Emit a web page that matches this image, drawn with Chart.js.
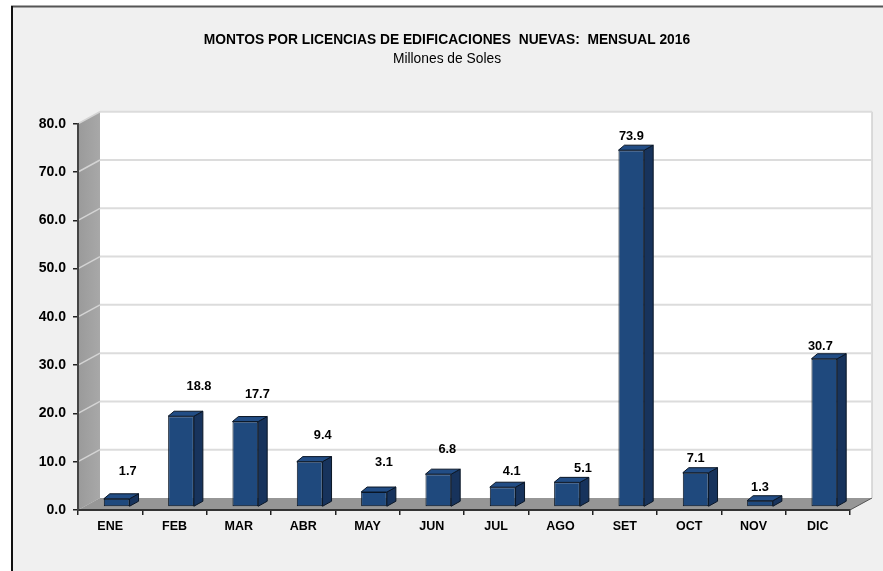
<!DOCTYPE html>
<html>
<head>
<meta charset="utf-8">
<script src="https://cdn.jsdelivr.net/npm/chart.js@4.4.1/dist/chart.umd.min.js"></script>
<style>
html,body{margin:0;padding:0;background:#fff;}
#wrap{width:883px;height:571px;position:relative;}
</style>
</head>
<body>
<div id="wrap"><canvas id="c"></canvas></div>
<script>
// ---- data ----
const categories = ['ENE','FEB','MAR','ABR','MAY','JUN','JUL','AGO','SET','OCT','NOV','DIC'];
const values = [1.7, 18.8, 17.7, 9.4, 3.1, 6.8, 4.1, 5.1, 73.9, 7.1, 1.3, 30.7];
const yMin = 0, yMax = 80, yStep = 10;
const titleText = 'MONTOS POR LICENCIAS DE EDIFICACIONES  NUEVAS:  MENSUAL 2016';
const subtitleText = 'Millones de Soles';

// ---- style ----
const FONT = 'Arial, "Liberation Sans", sans-serif';
const DEPTH_X = 22, DEPTH_Y = -12;      // wall depth
const SHIFT_X = 6.5, SHIFT_Y = -3;      // bar placement inside depth
const BAR_DL = 6, BAR_DR = 9, BAR_DY = -5; // bar own depth
const labelNudge = [[11,-14],[18,-17],[12,-14],[13,-13],[10,-17],[9,-12],[9,-3],[16,-1],[0,-1],[0,-1],[0,0],[-4,1]];

const scene3d = {
  id: 'scene3d',
  beforeDraw(chart) {
    const ctx = chart.ctx, a = chart.chartArea, y = chart.scales.y;
    ctx.save();
    ctx.fillStyle = '#ffffff';
    ctx.fillRect(0, 0, chart.width, chart.height);
    ctx.fillStyle = '#f0f0f0';
    ctx.fillRect(12, 7, chart.width - 12, chart.height - 7);
    ctx.strokeStyle = '#555555'; ctx.lineWidth = 2;
    ctx.beginPath(); ctx.moveTo(11, 6.5); ctx.lineTo(chart.width, 6.5); ctx.stroke();
    ctx.strokeStyle = '#111111'; ctx.lineWidth = 2;
    ctx.beginPath(); ctx.moveTo(12, 6); ctx.lineTo(12, chart.height); ctx.stroke();

    const top = y.getPixelForValue(yMax), bot = y.getPixelForValue(yMin);
    ctx.fillStyle = '#ffffff';
    ctx.fillRect(a.left + DEPTH_X, top + DEPTH_Y, a.right - a.left, bot - top);
    const g = ctx.createLinearGradient(a.left, 0, a.left + DEPTH_X, 0);
    g.addColorStop(0, '#9a9a9a'); g.addColorStop(1, '#a8a8a8');
    ctx.fillStyle = g;
    ctx.beginPath();
    ctx.moveTo(a.left, bot); ctx.lineTo(a.left, top);
    ctx.lineTo(a.left + DEPTH_X, top + DEPTH_Y); ctx.lineTo(a.left + DEPTH_X, bot + DEPTH_Y);
    ctx.closePath(); ctx.fill();
    ctx.fillStyle = '#969696';
    ctx.beginPath();
    ctx.moveTo(a.left, bot); ctx.lineTo(a.right, bot);
    ctx.lineTo(a.right + DEPTH_X, bot + DEPTH_Y); ctx.lineTo(a.left + DEPTH_X, bot + DEPTH_Y);
    ctx.closePath(); ctx.fill();
    ctx.strokeStyle = '#555'; ctx.lineWidth = 1;
    ctx.beginPath(); ctx.moveTo(a.right, bot); ctx.lineTo(a.right + DEPTH_X, bot + DEPTH_Y); ctx.stroke();
    ctx.strokeStyle = '#d0d0d0'; ctx.lineWidth = 1.5;
    ctx.beginPath(); ctx.moveTo(a.right + DEPTH_X, top + DEPTH_Y); ctx.lineTo(a.right + DEPTH_X, bot + DEPTH_Y); ctx.stroke();
    for (let v = yMin + yStep; v <= yMax; v += yStep) {
      const py = y.getPixelForValue(v);
      ctx.strokeStyle = '#dcdcdc'; ctx.lineWidth = 2;
      ctx.beginPath(); ctx.moveTo(a.left + DEPTH_X, py + DEPTH_Y); ctx.lineTo(a.right + DEPTH_X, py + DEPTH_Y); ctx.stroke();
      ctx.strokeStyle = '#d4d4d4'; ctx.lineWidth = 1.5;
      ctx.beginPath(); ctx.moveTo(a.left, py); ctx.lineTo(a.left + DEPTH_X, py + DEPTH_Y); ctx.stroke();
    }
    ctx.restore();
  },
  beforeDatasetsDraw(chart) {
    chart.ctx.save();
    chart.ctx.translate(SHIFT_X, SHIFT_Y);
  },
  afterDatasetsDraw(chart) {
    const ctx = chart.ctx;
    const meta = chart.getDatasetMeta(0);
    meta.data.forEach((bar) => {
      const p = bar.getProps(['x','y','base','width'], true);
      const L = p.x - p.width / 2, R = p.x + p.width / 2, T = p.y, B = p.base;
      ctx.lineWidth = 1; ctx.strokeStyle = '#0a1626'; ctx.lineJoin = 'round';
      ctx.fillStyle = '#17335c';
      ctx.beginPath();
      ctx.moveTo(R, T); ctx.lineTo(R + BAR_DR, T + BAR_DY); ctx.lineTo(R + BAR_DR, B + BAR_DY); ctx.lineTo(R, B);
      ctx.closePath(); ctx.fill(); ctx.stroke();
      ctx.fillStyle = '#224d85';
      ctx.beginPath();
      ctx.moveTo(L, T); ctx.lineTo(L + BAR_DL, T + BAR_DY); ctx.lineTo(R + BAR_DR, T + BAR_DY); ctx.lineTo(R, T);
      ctx.closePath(); ctx.fill(); ctx.stroke();
    });
    ctx.restore();
    ctx.save();
    ctx.font = 'bold 12.8px ' + FONT;
    ctx.fillStyle = '#000';
    ctx.textAlign = 'center'; ctx.textBaseline = 'middle';
    meta.data.forEach((bar, i) => {
      const p = bar.getProps(['x','y'], true);
      const n = labelNudge[i];
      ctx.fillText(values[i].toFixed(1), p.x + SHIFT_X + n[0], p.y + SHIFT_Y - 13 + n[1]);
    });
    ctx.restore();
  }
};

new Chart(document.getElementById('c'), {
  type: 'bar',
  data: {
    labels: categories,
    datasets: [{
      data: values,
      backgroundColor: '#1f497d',
      borderColor: '#0a1626',
      borderWidth: 1,
      borderSkipped: false,
      categoryPercentage: 1.0,
      barPercentage: 0.4,
      clip: false
    }]
  },
  options: {
    responsive: true,
    maintainAspectRatio: false,
    animation: false,
    events: [],
    layout: { padding: { left: 11, right: 0, top: 0, bottom: 0 } },
    plugins: {
      legend: { display: false },
      tooltip: { enabled: false },
      title: {
        display: true, text: titleText, color: '#000',
        font: { family: FONT, size: 13.8, weight: 'bold', lineHeight: 1.2 },
        padding: { top: 31.7, bottom: 0 }
      },
      subtitle: {
        display: true, text: subtitleText, color: '#000',
        font: { family: FONT, size: 13.8, weight: 'normal', lineHeight: 1.2 },
        padding: { top: 2.4, bottom: 56.5 }
      }
    },
    scales: {
      x: {
        offset: true,
        grid: { display: true, drawOnChartArea: false, drawTicks: true, tickLength: 5, offset: true, color: '#222', lineWidth: 1.5 },
        border: { display: true, color: '#333', width: 2 },
        ticks: { color: '#000', font: { family: FONT, size: 12.5, weight: 'bold' }, padding: 4, maxRotation: 0, autoSkip: false },
        afterFit(s) { s.height = 61; }
      },
      y: {
        min: yMin, max: yMax,
        grid: { display: true, drawOnChartArea: false, drawTicks: true, tickLength: 5, color: '#222', lineWidth: 1.5 },
        border: { display: true, color: '#444', width: 2 },
        ticks: { stepSize: yStep, color: '#000', font: { family: FONT, size: 14, weight: 'bold' }, padding: 7,
                 callback: v => Number(v).toFixed(1) },
        afterFit(s) { s.width = 67; }
      },
      yPad: {
        position: 'right', min: yMin, max: yMax,
        grid: { display: false }, border: { display: false }, ticks: { display: false },
        afterFit(s) { s.width = 33; }
      }
    }
  },
  plugins: [scene3d]
});
</script>
</body>
</html>
